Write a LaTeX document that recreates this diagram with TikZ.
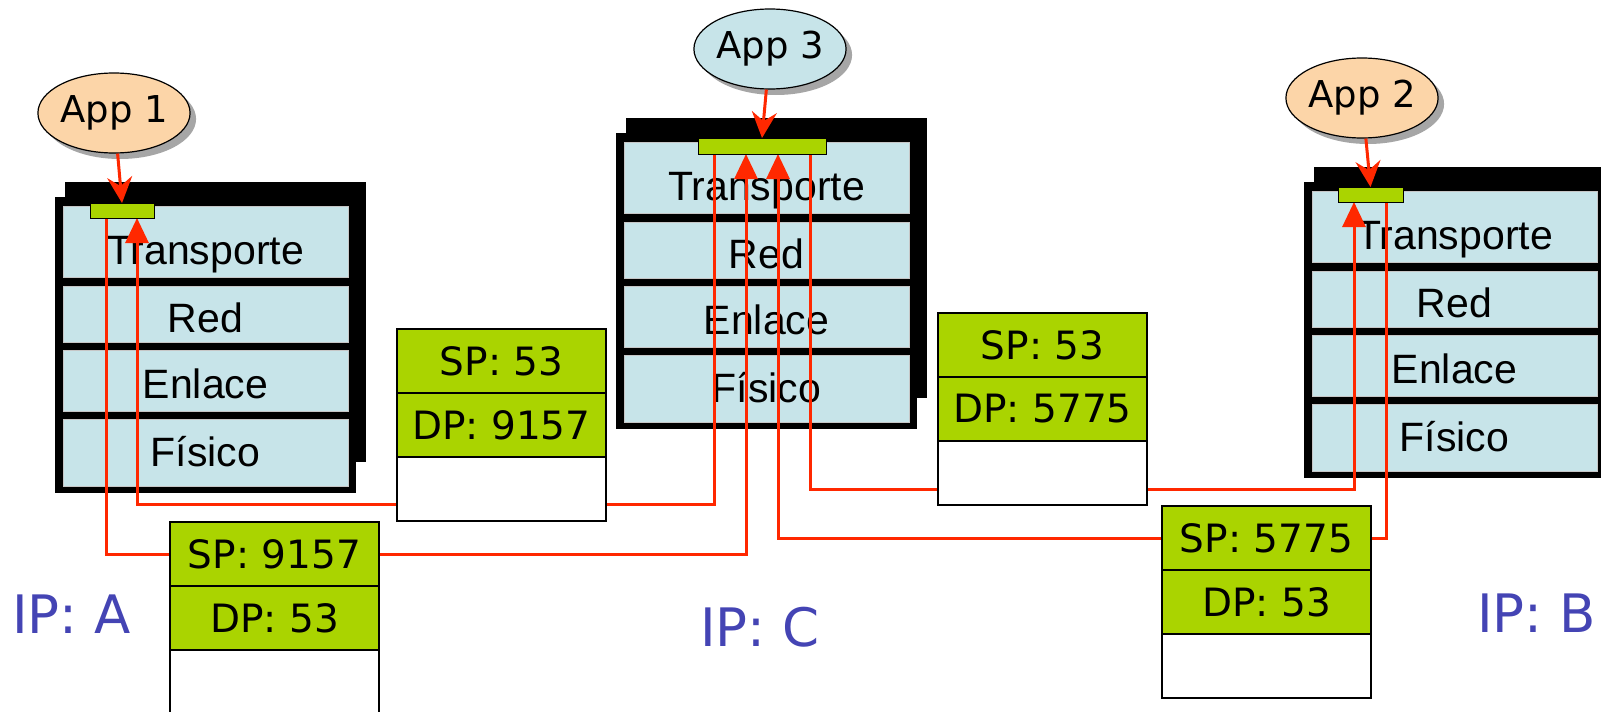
\documentclass[tikz,border=0pt]{standalone}
\usepackage{fontspec}
\setmainfont{Liberation Sans}
\newfontfamily\comicfont{DejaVu Sans}
\usetikzlibrary{arrows.meta,shadows,shapes.geometric}
\definecolor{layerblue}{RGB}{199,228,233}
\definecolor{peach}{RGB}{252,213,168}
\definecolor{sockgreen}{RGB}{170,212,0}
\definecolor{linered}{RGB}{255,40,0}
\definecolor{ipblue}{RGB}{68,68,180}
\pgfdeclarelayer{back}
\pgfdeclarelayer{wires}
\pgfsetlayers{back,wires,main}

\newcommand\protostack[3]{%
  \fill[black] (#1+10,#2-15) rectangle ++(301,280);
  \fill[black] (#1,#2) rectangle ++(301,296);
  \node[layerbox, minimum height=71pt, text height=45pt] (#3t) at (#1+150.5,#2+44.5) {Transporte};
  \node[layerbox, minimum height=56pt, text height=37.5pt] (#3r) at (#1+150.5,#2+117) {Red};
  \node[layerbox, minimum height=61pt, text height=36.5pt] (#3e) at (#1+150.5,#2+183.5) {Enlace};
  \node[layerbox, minimum height=67pt, text height=27pt] (#3f) at (#1+150.5,#2+255.5) {Físico};
}
\newcommand\packetbox[5]{%
  \node[pktrow, fill=sockgreen, anchor=north] (#1s) at (#2,#3) {#4};
  \node[pktrow, fill=sockgreen, anchor=north] (#1d) at (#1s.south) {#5};
  \node[pktrow, fill=white, anchor=north] (#1e) at (#1d.south) {};
}

\begin{document}
\begin{tikzpicture}[x=1pt,y=-1pt,
  layerbox/.style={fill=layerblue, draw=gray!45, line width=0.8pt, minimum width=285pt, inner sep=0pt, text depth=0pt, font=\fontsize{41}{41}\selectfont},
  pktrow/.style={draw=black, line width=1.6pt, minimum width=209pt, minimum height=64pt, inner sep=0pt, outer sep=0pt, font=\comicfont\fontsize{39}{39}\selectfont},
  socket/.style={draw=black, line width=1pt, fill=sockgreen, inner sep=0pt, outer sep=0pt, anchor=north west},
  appnode/.style={ellipse, draw=black, line width=1.2pt, minimum width=144pt, minimum height=80pt, inner sep=0pt, font=\comicfont\fontsize{37}{37}\selectfont,
     drop shadow={shadow xshift=6pt, shadow yshift=-6pt, fill=black, opacity=0.35}},
  redline/.style={draw=linered, line width=3pt},
  uparrow/.style={redline, -{Triangle[length=25pt, width=23pt]}},
  apparrow/.style={redline, -{Stealth[length=26pt, width=25pt, inset=9pt]}},
  iplabel/.style={text=ipblue, anchor=west, inner sep=0pt, font=\comicfont\fontsize{53}{53}\selectfont}
]
\useasboundingbox (0,0) rectangle (1601,712);
\clip (0,0) rectangle (1601,712);

\begin{pgfonlayer}{back}
\fill[white] (0,0) rectangle (1601,712);
% protocol stacks
\protostack{55}{197}{A}
\protostack{616}{133}{C}
\protostack{1304}{182}{B}
\end{pgfonlayer}

% sockets
\node[socket, minimum width=64pt, minimum height=15pt] (sockA) at (90,203) {};
\node[socket, minimum width=128pt, minimum height=16pt] (sockC) at (698,138) {};
\node[socket, minimum width=65pt, minimum height=15pt] (sockB) at (1338,187) {};

% applications
\node[appnode, fill=peach] (app1) at (114,113) {App 1};
\node[appnode, fill=layerblue] (app3) at (770,49) {App 3};
\node[appnode, fill=peach] (app2) at (1362,98) {App 2};

\draw[apparrow] (app1) -- (sockA.north);
\draw[apparrow] (app3) -- (sockC.north);
\draw[apparrow] (app2) -- (sockB.north);

% packets
\packetbox{P1}{501.5}{329}{SP: 53}{DP: 9157}
\packetbox{P2}{274.5}{522}{SP: 9157}{DP: 53}
\packetbox{P3}{1042.5}{313}{SP: 53}{DP: 5775}
\packetbox{P4}{1266.5}{506}{SP: 5775}{DP: 53}

% red paths
\begin{pgfonlayer}{wires}
% A -> C
\draw[redline] (sockA.south west) ++(16pt,0) |- (P2s.west);
\draw[uparrow] (P2s.east) -| ([xshift=48pt]sockC.south west);
% C -> A
\draw[redline] ([xshift=16pt]sockC.south west) |- ([yshift=17pt]P1e.south east);
\draw[uparrow] ([yshift=17pt]P1e.south west) -| ([xshift=47pt]sockA.south west);
% C -> B
\draw[redline] ([xshift=112pt]sockC.south west) |- ([yshift=16pt]P3e.south west);
\draw[uparrow] ([yshift=16pt]P3e.south east) -| ([xshift=16pt]sockB.south west);
% B -> C
\draw[redline] ([xshift=48pt]sockB.south west) |- (P4s.east);
\draw[uparrow] (P4s.west) -| ([xshift=80pt]sockC.south west);
\end{pgfonlayer}

% IP labels
\node[iplabel] (ipA) at (12,614) {IP: A};
\node[iplabel] (ipC) at (700,627) {IP: C};
\node[iplabel] (ipB) at (1477,613) {IP: B};
\end{tikzpicture}
\end{document}
